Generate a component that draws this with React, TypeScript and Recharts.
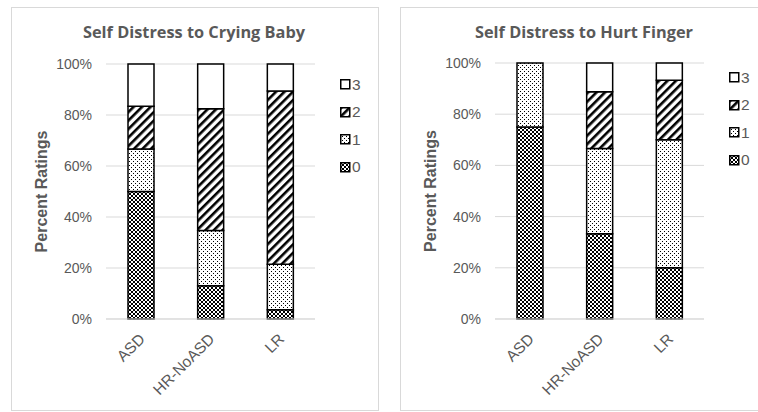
import React from 'react';
import { BarChart, Bar, XAxis, YAxis, CartesianGrid, Legend, Label } from 'recharts';

const categories = ['ASD', 'HR-NoASD', 'LR'];
const ratingNames = ['0', '1', '2', '3'];

const cryingRating0 = [50.0, 13.0, 3.6];
const cryingRating1 = [16.7, 21.7, 17.9];
const cryingRating2 = [16.7, 47.8, 67.9];
const cryingRating3 = [16.6, 17.5, 10.6];

const fingerRating0 = [75.0, 33.3, 20.0];
const fingerRating1 = [25.0, 33.3, 50.0];
const fingerRating2 = [0, 22.2, 23.3];
const fingerRating3 = [0, 11.2, 6.7];

const yTicks = [0, 0.2, 0.4, 0.6, 0.8, 1];

const TEXT = '#595959';
const GRID = '#d9d9d9';
const FONT = '"Liberation Sans", Arial, sans-serif';

const buildRows = (s0: number[], s1: number[], s2: number[], s3: number[]) =>
  categories.map((c, i) => ({ cat: c, r0: s0[i], r1: s1[i], r2: s2[i], r3: s3[i] }));

const cryingRows = buildRows(cryingRating0, cryingRating1, cryingRating2, cryingRating3);
const fingerRows = buildRows(fingerRating0, fingerRating1, fingerRating2, fingerRating3);

const Patterns = ({ p }: { p: string }) => (
  <defs>
    <pattern id={`${p}-check`} width={4} height={4} patternUnits="userSpaceOnUse">
      <rect x={0} y={0} width={4} height={4} fill="#fff" />
      <rect x={0} y={0} width={2} height={2} fill="#000" />
      <rect x={2} y={2} width={2} height={2} fill="#000" />
    </pattern>
    <pattern id={`${p}-dots`} width={4} height={4} patternUnits="userSpaceOnUse">
      <rect x={0} y={0} width={4} height={4} fill="#fff" />
      <rect x={0} y={0} width={1} height={1} fill="#000" />
      <rect x={2} y={2} width={1} height={1} fill="#000" />
    </pattern>
    <pattern id={`${p}-stripe`} width={6} height={6} patternUnits="userSpaceOnUse" patternTransform="rotate(45)">
      <rect x={0} y={0} width={6} height={6} fill="#fff" />
      <rect x={0} y={0} width={2.6} height={6} fill="#000" />
    </pattern>
  </defs>
);

const fills = (p: string) => [`url(#${p}-check)`, `url(#${p}-dots)`, `url(#${p}-stripe)`, '#ffffff'];

const XTick = (props: any) => {
  const { x, y, payload } = props;
  const ax = x + 5;
  const ay = y + 21;
  return (
    <text x={ax} y={ay} transform={`rotate(-45, ${ax}, ${ay})`} textAnchor="end" fill={TEXT} fontSize={15.5} fontFamily={FONT}>
      {payload.value}
    </text>
  );
};

const LegendBox = ({ p }: { p: string }) => {
  const f = fills(p);
  const order = [3, 2, 1, 0];
  return (
    <div style={{ fontFamily: FONT, fontSize: 15.5, color: TEXT }}>
      {order.map((k) => (
        <div key={k} style={{ display: 'flex', alignItems: 'center', height: 27.5 }}>
          <svg width={11} height={11} style={{ marginRight: 1 }}>
            <rect x={0.75} y={0.75} width={9} height={9} fill={f[k]} stroke="#000" strokeWidth={1.5} />
          </svg>
          <span style={{ lineHeight: '16px' }}>{ratingNames[k]}</span>
        </div>
      ))}
    </div>
  );
};

const YTitle = (props: any) => {
  const vb = props.viewBox || { x: 0, y: 0, width: 0, height: 0 };
  const cx = vb.x + 30.5;
  const cy = vb.y + vb.height / 2;
  return (
    <text x={cx} y={cy} transform={`rotate(-90, ${cx}, ${cy})`} textAnchor="middle" dominantBaseline="central" fill={TEXT} fontSize={16} fontWeight="bold" fontFamily={FONT}>
      Percent Ratings
    </text>
  );
};

type PanelProps = {
  left: number;
  title: string;
  titleWidth: number;
  titleX: number;
  rows: any[];
  p: string;
  topMargin: number;
  legendTop: number;
};

const Panel = ({ left, title, titleWidth, titleX, rows, p, topMargin, legendTop }: PanelProps) => {
  const f = fills(p);
  return (
    <div style={{ position: 'absolute', left, top: 7, width: 368, height: 404 }}>
      <div style={{ position: 'absolute', left: 0, top: 0, width: 368, height: 404, border: `1px solid ${GRID}`, boxSizing: 'border-box' }} />
      <div style={{ position: 'absolute', left: 0, top: 0 }}>
        <BarChart width={368} height={404} data={rows} stackOffset="expand" margin={{ top: topMargin, right: 64, bottom: 0, left: 0 }} barSize={26}>
          <Patterns p={p} />
          <CartesianGrid vertical={false} stroke={GRID} strokeWidth={1} />
          <XAxis dataKey="cat" axisLine={{ stroke: GRID }} tickLine={false} tickSize={0} tickMargin={0} height={92} interval={0} tick={<XTick />} />
          <YAxis type="number" domain={[0, 1]} ticks={yTicks} width={95} axisLine={false} tickLine={false} tickSize={0} tickMargin={14}
            tickFormatter={(v: number) => `${Math.round(v * 100)}%`}
            tick={{ fill: TEXT, fontSize: 14, fontFamily: FONT }}>
            <Label content={<YTitle />} />
          </YAxis>
          <Legend layout="vertical" align="center" verticalAlign="middle" wrapperStyle={{ left: 329, top: legendTop, width: 32 }} content={() => <LegendBox p={p} />} />
          <Bar dataKey="r0" name="0" stackId="a" fill={f[0]} stroke="#000" strokeWidth={1.5} isAnimationActive={false} />
          <Bar dataKey="r1" name="1" stackId="a" fill={f[1]} stroke="#000" strokeWidth={1.5} isAnimationActive={false} />
          <Bar dataKey="r2" name="2" stackId="a" fill={f[2]} stroke="#000" strokeWidth={1.5} isAnimationActive={false} />
          <Bar dataKey="r3" name="3" stackId="a" fill={f[3]} stroke="#000" strokeWidth={1.5} isAnimationActive={false} />
        </BarChart>
      </div>
      <svg style={{ position: 'absolute', left: 0, top: 0 }} width={368} height={45}>
        <text x={titleX} y={31} textAnchor="middle" fill={TEXT} fontSize={16} fontWeight="bold" fontFamily='"Open Sans", sans-serif' textLength={titleWidth} lengthAdjust="spacingAndGlyphs">
          {title}
        </text>
      </svg>
    </div>
  );
};

export default function App() {
  return (
    <div style={{ position: 'absolute', left: 0, top: 0, width: 758, height: 412, overflow: 'hidden', background: '#fff' }}>
      <Panel left={11} title="Self Distress to Crying Baby" titleWidth={222} titleX={183} rows={cryingRows} p="cry" topMargin={57} legendTop={64} />
      <Panel left={400} title="Self Distress to Hurt Finger" titleWidth={218} titleX={184} rows={fingerRows} p="fin" topMargin={56} legendTop={57} />
    </div>
  );
}
